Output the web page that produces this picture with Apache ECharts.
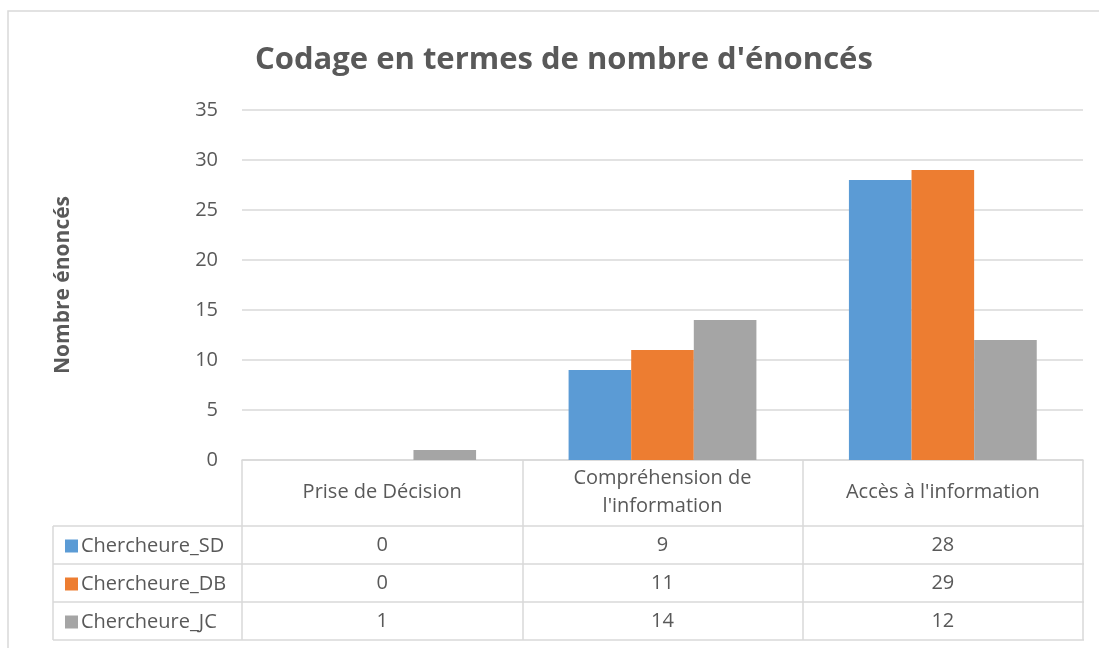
<!DOCTYPE html>
<html>
<head>
<meta charset="utf-8">
<script src="https://cdn.jsdelivr.net/npm/echarts@6/dist/echarts.min.js"></script>
<style>
  html, body { margin: 0; padding: 0; background: #fff; }
  #chart { width: 1099px; height: 648px; }
</style>
</head>
<body>
<div id="chart"></div>
<script>
// data
const categories = ['Prise de Décision', 'Compréhension de\nl\'information', 'Accès à l\'information']
const seriesNames = ['Chercheure_SD', 'Chercheure_DB', 'Chercheure_JC']
const valuesSD = [0, 9, 28]
const valuesDB = [0, 11, 29]
const valuesJC = [1, 14, 12]
const yTicks = [0, 5, 10, 15, 20, 25, 30, 35]

const colors = ['#5B9BD5', '#ED7D31', '#A5A5A5']
const textColor = '#595959'
const lineColor = '#D9D9D9'
const font = 'Open Sans'

const chart = echarts.init(document.getElementById('chart'))

const rowData = [valuesSD, valuesDB, valuesJC]
const rowOffsets = [85, 123, 161] // table rows below the axis line

// one extra hidden x axis per table row, its labels are the cell values
const rowAxes = rowData.map((vals, i) => ({
  type: 'category',
  gridIndex: 0,
  position: 'bottom',
  offset: rowOffsets[i],
  data: categories,
  axisLine: { show: false },
  axisTick: { show: false },
  axisLabel: {
    margin: 0,
    verticalAlign: 'middle',
    color: textColor,
    fontFamily: font,
    fontSize: 20,
    formatter: (v, idx) => String(vals[idx])
  }
}))

const option = {
  animation: false,
  color: colors,
  title: {
    text: 'Codage en termes de nombre d\'énoncés',
    left: 250,
    top: 40,
    textStyle: { color: textColor, fontFamily: font, fontSize: 31, fontWeight: 'bold' }
  },
  grid: { left: 242, right: 16, top: 110, bottom: 188, containLabel: false },
  legend: {
    orient: 'vertical',
    left: 60,
    top: 530,
    itemGap: 16,
    itemWidth: 13,
    itemHeight: 13,
    icon: 'rect',
    data: seriesNames,
    textStyle: { color: textColor, fontFamily: font, fontSize: 20, lineHeight: 22, padding: [0, 0, 0, -2] }
  },
  xAxis: [
    {
      type: 'category',
      data: categories,
      axisLine: { show: true, lineStyle: { color: lineColor, width: 1.5 } },
      axisTick: { show: true, length: 180, lineStyle: { color: lineColor, width: 1.5 } },
      axisLabel: {
        margin: 32,
        verticalAlign: 'middle',
        color: textColor,
        fontFamily: font,
        fontSize: 20,
        lineHeight: 28
      }
    },
    ...rowAxes
  ],
  yAxis: {
    type: 'value',
    min: yTicks[0],
    max: yTicks[yTicks.length - 1],
    interval: 5,
    name: 'Nombre énoncés',
    nameLocation: 'middle',
    nameGap: 168,
    nameTextStyle: { color: textColor, fontFamily: font, fontSize: 21, fontWeight: 'bold' },
    axisLine: { show: false },
    axisTick: { show: false },
    axisLabel: { margin: 24, color: textColor, fontFamily: font, fontSize: 20 },
    splitLine: { lineStyle: { color: lineColor, width: 1.5 } }
  },
  series: seriesNames.map((name, i) => ({
    name,
    type: 'bar',
    barGap: '0%',
    barCategoryGap: '33%',
    data: rowData[i]
  })),
  graphic: [
    // outer chart border
    { type: 'rect', shape: { x: 8, y: 11, width: 1200, height: 800 }, style: { fill: 'none', stroke: lineColor, lineWidth: 1.5 }, silent: true },
    // table horizontal rules
    ...[526, 564, 602, 640].map(y => ({
      type: 'line', shape: { x1: 53, y1: y, x2: 1084, y2: y }, style: { stroke: lineColor, lineWidth: 1.5 }, silent: true
    })),
    { type: 'line', shape: { x1: 53, y1: 526, x2: 53, y2: 640 }, style: { stroke: lineColor, lineWidth: 1.5 }, silent: true }
  ]
}

chart.setOption(option)
</script>
</body>
</html>
